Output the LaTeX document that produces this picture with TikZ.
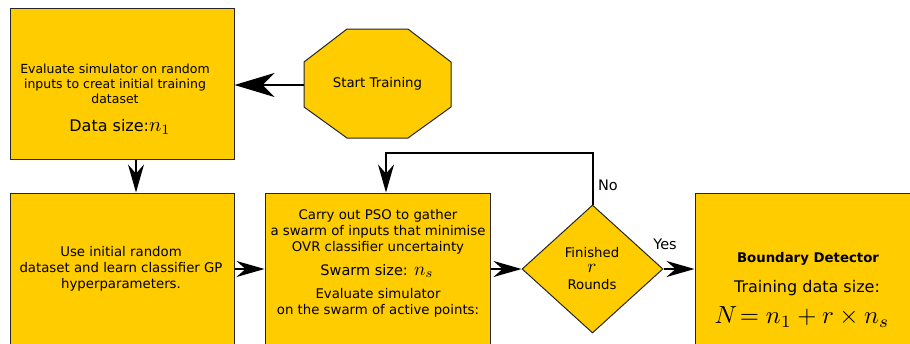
\documentclass[tikz,border=0pt]{standalone}
\usepackage{graphicx}
\usepackage[no-math]{fontspec}
\setmainfont{DejaVu Sans}
\usetikzlibrary{arrows.meta,shapes.geometric}
\definecolor{boxyellow}{RGB}{255,204,0}
\newcommand{\smallfs}{\fontsize{13.3}{15.8}\selectfont}
\newcommand{\onefs}{\fontsize{12.5}{15.2}\selectfont}
\newcommand{\midfs}{\fontsize{14.5}{17}\selectfont}
\newcommand{\bigfs}{\fontsize{16}{19}\selectfont}
\newcommand{\mth}[2]{{\fontsize{10}{12}\selectfont\scalebox{#1}{$#2$}}}
\begin{document}
\begin{tikzpicture}[x=1pt,y=-1pt,
  box/.style={draw=black!85,line width=1pt,fill=boxyellow,inner sep=0pt},
  txt/.style={inner sep=0pt,align=center,font=\smallfs},
  conn/.style={draw=black,line width=2pt},
  arr/.style={conn,-{Stealth[length=28pt,width=16pt,inset=9pt]}},
  bigarr/.style={conn,-{Stealth[length=40pt,width=24pt,inset=12pt]}}]
\useasboundingbox (0,0) rectangle (910,343);
\clip (0,0) rectangle (910,343);
% boxes
\node[box,minimum width=224pt,minimum height=151pt] (box1) at (122,83.5) {};
\node[box,minimum width=224pt,minimum height=152pt] (box2) at (122,269) {};
\node[box,minimum width=225pt,minimum height=152pt] (box3) at (377.5,269) {};
\node[box,minimum width=225pt,minimum height=152pt] (box5) at (807.5,269) {};
\node[box,shape=diamond,minimum width=141pt,minimum height=128pt] (dia) at (592.5,269) {};
% octagon
\draw[box] (347,29) -- (408,29) -- (451,62) -- (451,107) -- (408,138) -- (347,138) -- (304,107) -- (304,62) -- cycle;
\coordinate (octW) at (304,85);
\node[txt] (start) at (377.5,84) {Start Training};
% texts
\node[txt,font=\onefs] (t1) at (115,84) {Evaluate simulator on random\\inputs to creat initial training\\dataset};
\node[txt,font=\bigfs] (t1b) at (120,127) {Data size:\mth{2.05}{n_1}};
\node[txt] (t2) at (121,269) {Use initial random\\dataset and learn classifier GP\\hyperparameters.};
\node[txt] (t3) at (378,232) {Carry out PSO to gather\\a swarm of inputs that minimise\\OVR classifier uncertainty};
\node[txt,font=\midfs] (t3b) at (377,271) {Swarm size: \mth{1.9}{n_s}};
\node[txt] (t3c) at (378,303) {Evaluate simulator\\on the swarm of active points:};
\node[inner sep=0pt,font=\smallfs] (t4a) at (592,252.5) {Finished};
\node[inner sep=0pt] (t4b) at (592,268.5) {\mth{1.9}{r}};
\node[inner sep=0pt,font=\smallfs] (t4c) at (592,285) {Rounds};
\node[txt,font=\smallfs\bfseries] (t5) at (808,259) {Boundary Detector};
\node[txt,font=\bigfs] (t5b) at (807,288) {Training data size:};
\node[txt] (t5c) at (802,317) {\mth{2.47}{N\!= n_1 + r \times n_s}};
\node[txt,font=\midfs] (no) at (608,185) {No};
\node[txt,font=\midfs] (yes) at (665,244) {Yes};
% connectors
\draw[bigarr] (octW) -- (octW -| box1.east);
\draw[arr] ([xshift=14pt]box1.south) -- ([xshift=14pt]box2.north);
\draw[arr] (box2.east) -- (box3.west);
\draw[arr] (box3.east) -- (dia.west);
\draw[arr] (dia.east) -- (box5.west);
\draw[arr] (dia.north) -- ++(0,-52) -| ([xshift=8.5pt]box3.north);
\end{tikzpicture}
\end{document}
